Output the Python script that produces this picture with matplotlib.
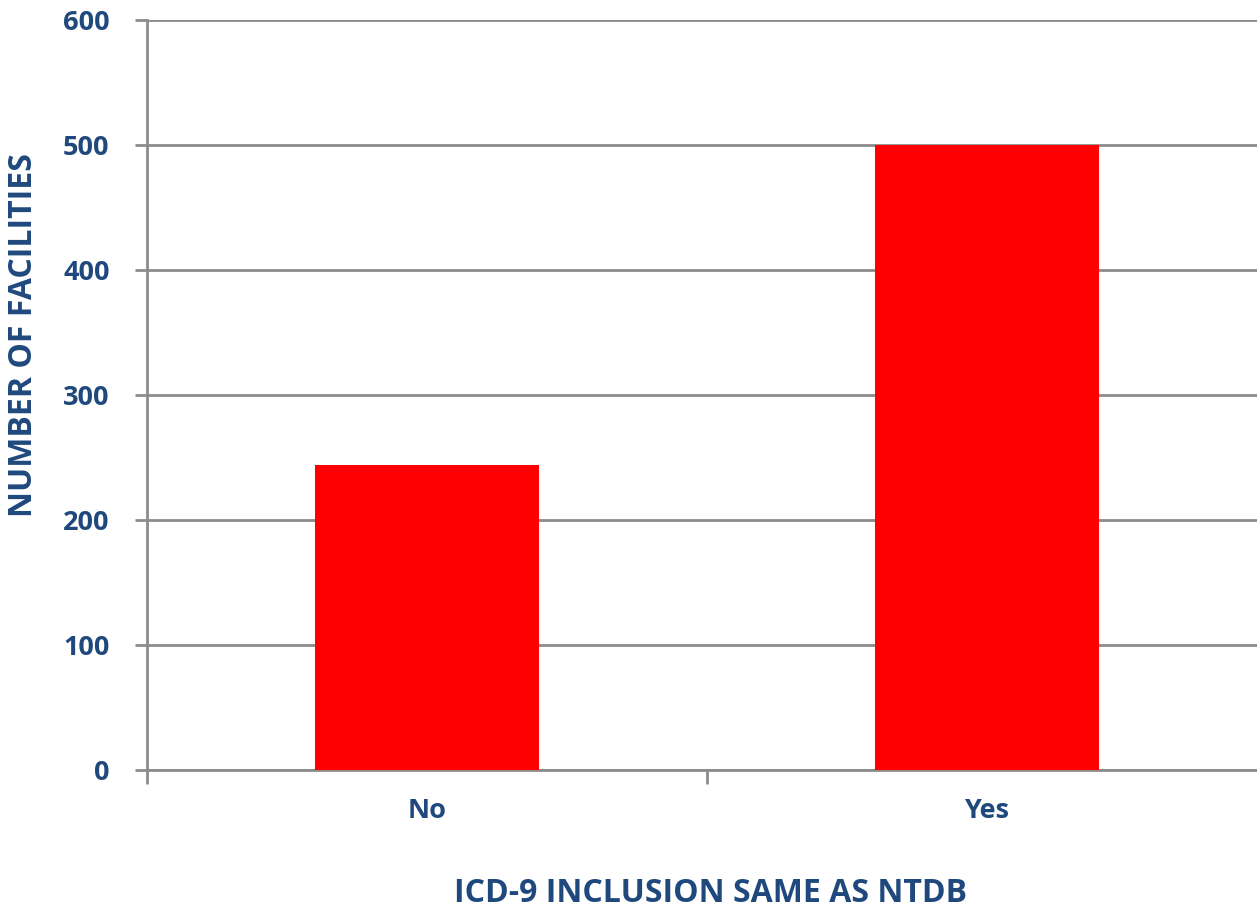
import matplotlib.pyplot as plt

categories = ["No", "Yes"]
facilities = [244, 500]

text_color = "#1F497D"
grid_color = "#8C8C8C"

plt.rcParams['font.family'] = ['Open Sans', 'DejaVu Sans']

W, H = 1257, 911
fig = plt.figure(figsize=(W / 100, H / 100), dpi=100)
ax = fig.add_axes([147 / W, 141 / H, 1120 / W, 750 / H])

x = range(len(categories))
ax.bar(x, facilities, width=0.4, color="#FF0000", zorder=3)

ax.set_xlim(-0.5, 1.5)
ax.set_ylim(0, 600)
ax.set_yticks(range(0, 601, 100))
ax.set_xticks([-0.5, 0.5], minor=False)
ax.set_xticklabels([])
ax.set_xticks(list(x), minor=True)
ax.set_xticklabels(categories, minor=True)

ax.grid(axis="y", color=grid_color, linewidth=2, zorder=0)
for side in ["top", "right"]:
    ax.spines[side].set_visible(False)
for side in ["left", "bottom"]:
    ax.spines[side].set_color(grid_color)
    ax.spines[side].set_linewidth(2)

ax.tick_params(axis="y", length=9, width=2, color=grid_color,
               labelsize=19.5, labelcolor=text_color, pad=18)
ax.tick_params(axis="x", which="major", length=10, width=2, color=grid_color)
ax.tick_params(axis="x", which="minor", length=0,
               labelsize=19.5, labelcolor=text_color, pad=20)
for lbl in ax.get_yticklabels() + ax.get_xticklabels(minor=True):
    lbl.set_fontweight("bold")

# axis titles placed in figure pixels
fig.text(711 / W, 1 - 893 / H, "ICD-9 INCLUSION SAME AS NTDB", fontsize=23,
         fontweight="bold", color=text_color, ha="center", va="center")
fig.text(24 / W, 1 - 335 / H, "NUMBER OF FACILITIES", fontsize=23,
         fontweight="bold", color=text_color, ha="center", va="center",
         rotation=90)

fig.savefig("out.png", dpi=100)
